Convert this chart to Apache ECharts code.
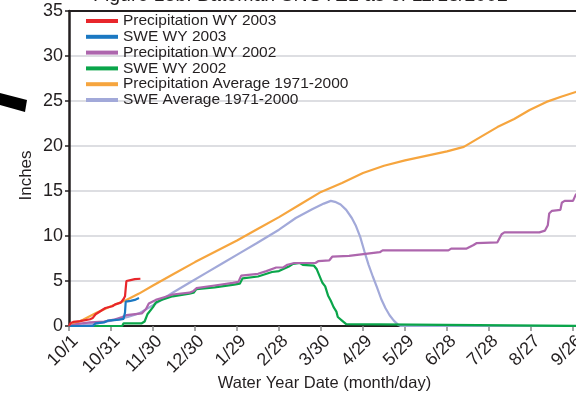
<!DOCTYPE html>
<html>
<head>
<meta charset="utf-8">
<script src="https://cdn.jsdelivr.net/npm/echarts@6/dist/echarts.min.js"></script>
<style>
  html, body { margin: 0; padding: 0; background: #fff; }
  #chart { width: 576px; height: 396px; }
</style>
</head>
<body>
<div id="chart"></div>
<script>
// water year days (0 = 10/1), ticks every 30 days
const tickDays = [0, 30, 60, 90, 120, 150, 180, 210, 240, 270, 300, 330, 360]
const tickLabels = ['10/1', '10/31', '11/30', '12/30', '1/29', '2/28', '3/30', '4/29', '5/29', '6/28', '7/28', '8/27', '9/26']

// [day, inches]
const precipWY2003 = [[0, 0], [1, 0.3], [3, 0.45], [8, 0.55], [15, 0.75], [17, 0.9], [19, 1.3], [21, 1.5], [24, 1.8], [26, 2.0], [31, 2.2], [33, 2.4], [37, 2.6], [39, 3.0], [40, 3.3], [41, 5.0], [44, 5.1], [47, 5.2], [51, 5.25]]
const sweWY2003 = [[0, 0], [17, 0], [19, 0.3], [25, 0.4], [28, 0.6], [36, 0.7], [39, 0.8], [40, 1.5], [40.5, 2.7], [44, 2.8], [47, 2.9], [48, 3.0], [50, 3.1]]
const precipWY2002 = [[0, 0], [5, 0.2], [15, 0.4], [25, 0.5], [32, 0.7], [38, 1.0], [41, 1.2], [52, 1.4], [55, 1.9], [57, 2.5], [62, 2.9], [68, 3.2], [74, 3.5], [86, 3.7], [89, 3.9], [91, 4.2], [104, 4.5], [117, 4.8], [121, 4.9], [123, 5.6], [135, 5.8], [141, 6.1], [148, 6.5], [153, 6.5], [156, 6.8], [161, 7.0], [176, 7.0], [178, 7.2], [186, 7.3], [188, 7.7], [200, 7.8], [222, 8.2], [224, 8.4], [271, 8.4], [273, 8.6], [284, 8.6], [289, 9.0], [291, 9.2], [306, 9.3], [309, 10.2], [311, 10.4], [336, 10.4], [340, 10.6], [342, 11.2], [343, 12.5], [345, 12.8], [351, 12.9], [352, 13.7], [354, 13.9], [360, 13.9], [362, 14.6], [365, 14.8]]
const sweWY2002 = [[0, 0], [38, 0], [39, 0.3], [52, 0.3], [54, 0.5], [56, 1.3], [60, 2.1], [62, 2.6], [66, 2.9], [74, 3.3], [86, 3.6], [89, 3.7], [91, 4.1], [104, 4.3], [118, 4.6], [122, 4.7], [124, 5.3], [135, 5.5], [145, 6.0], [150, 6.1], [157, 6.6], [160, 6.9], [165, 7.0], [167, 6.8], [175, 6.7], [177, 6.3], [181, 4.8], [183, 4.4], [185, 3.4], [187, 2.8], [189, 2.1], [191, 1.6], [192, 1.0], [195, 0.6], [198, 0.2], [199, 0], [365, 0]]
const precipAvg = [[0, 0], [10, 0.7], [20, 1.5], [30, 2.2], [41, 2.9], [50, 3.6], [60, 4.5], [75, 5.8], [90, 7.1], [105, 8.3], [120, 9.5], [135, 10.8], [150, 12.1], [165, 13.5], [180, 14.9], [195, 15.9], [210, 17.0], [225, 17.8], [240, 18.4], [255, 18.9], [270, 19.4], [282, 19.9], [295, 21.1], [306, 22.1], [318, 23.0], [329, 24.0], [341, 24.9], [352, 25.5], [362, 26.0], [365, 26.2]]
const sweAvg = [[0, 0], [10, 0.1], [20, 0.3], [30, 0.6], [42, 1.0], [50, 1.4], [60, 2.3], [74, 3.7], [86, 4.8], [98, 5.9], [110, 7.0], [122, 8.1], [134, 9.2], [150, 10.7], [162, 12.0], [174, 13.0], [182, 13.6], [187, 13.9], [190, 13.8], [194, 13.5], [198, 12.9], [202, 12.0], [205, 11.1], [208, 9.9], [211, 8.3], [214, 6.8], [217, 5.5], [220, 4.3], [223, 3.0], [226, 2.0], [229, 1.2], [232, 0.6], [235, 0.15], [237, 0], [365, 0]]

const font = 'Liberation Sans, Arial, sans-serif'
const ink = '#231f20'

const line = (name, data, color, z) => ({
  name: name,
  type: 'line',
  data: data,
  showSymbol: false,
  z: z,
  lineStyle: { color: color, width: 2.2 },
  itemStyle: { color: color },
})

const myChart = echarts.init(document.getElementById('chart'))
myChart.setOption({
  animation: false,
  title: {
    text: 'Figure 13b: Bateman SNOTEL as of 11/18/2002',
    left: 93,
    top: -14,
    padding: 0,
    textStyle: { color: ink, fontSize: 19.5, fontWeight: 'normal', fontFamily: font },
  },
  graphic: [
    {
      type: 'polygon',
      shape: { points: [[0, 93], [27, 100], [25, 112], [0, 105]] },
      style: { fill: '#000' },
    },
  ],
  legend: {
    orient: 'vertical',
    left: 86,
    top: 13,
    padding: 0,
    itemWidth: 32,
    itemHeight: 4,
    itemGap: -0.2,
    icon: 'rect',
    data: ['Precipitation WY 2003', 'SWE WY 2003', 'Precipitation WY 2002', 'SWE WY 2002', 'Precipitation Average 1971-2000', 'SWE Average 1971-2000'],
    textStyle: { color: ink, fontSize: 15.5, lineHeight: 15, fontFamily: font, padding: [0, 0, 0, 0] },
  },
  grid: { left: 69, top: 11, right: -4, bottom: 70, outerBoundsMode: 'none' },
  xAxis: [
    {
      type: 'value',
      min: 0,
      max: 365,
      interval: 30,
      name: 'Water Year Date (month/day)',
      nameLocation: 'middle',
      nameGap: 49,
      nameMoveOverlap: false,
      nameTextStyle: { color: ink, fontSize: 16.5, fontFamily: font, verticalAlign: 'top' },
      axisLine: { lineStyle: { color: ink, width: 2 } },
      axisTick: { length: 5, lineStyle: { color: '#888', width: 1.5 } },
      axisLabel: {
        rotate: 45,
        margin: 6,
        verticalAlign: 'top',
        color: ink,
        fontSize: 18,
        fontFamily: font,
        showMaxLabel: false,
        formatter: v => tickLabels[tickDays.indexOf(v)] || '',
      },
      splitLine: { show: false },
    },
    {
      type: 'value',
      position: 'top',
      min: 0,
      max: 365,
      axisLine: { show: true, lineStyle: { color: ink, width: 2 } },
      axisTick: { show: false },
      axisLabel: { show: false },
      splitLine: { show: false },
    },
  ],
  yAxis: {
    type: 'value',
    min: 0,
    max: 35,
    interval: 5,
    name: 'Inches',
    nameLocation: 'middle',
    nameGap: 34,
    nameMoveOverlap: false,
    nameTextStyle: { color: ink, fontSize: 17, fontFamily: font, padding: [0, 14, 0, 0] },
    axisLine: { show: true, lineStyle: { color: ink, width: 2.5 } },
    axisTick: { show: true, length: 4, lineStyle: { color: ink, width: 1.5 } },
    axisLabel: { color: ink, fontSize: 18, fontFamily: font, margin: 6 },
    splitLine: { lineStyle: { color: '#d2d3d8', width: 1.5 } },
  },
  series: [
    line('SWE Average 1971-2000', sweAvg, '#a2a9d9', 2),
    line('Precipitation Average 1971-2000', precipAvg, '#f6a53e', 3),
    line('SWE WY 2002', sweWY2002, '#0aa54a', 4),
    line('Precipitation WY 2002', precipWY2002, '#ad66ad', 5),
    line('SWE WY 2003', sweWY2003, '#1b78c2', 6),
    line('Precipitation WY 2003', precipWY2003, '#e8262b', 7),
  ],
})
</script>
</body>
</html>
